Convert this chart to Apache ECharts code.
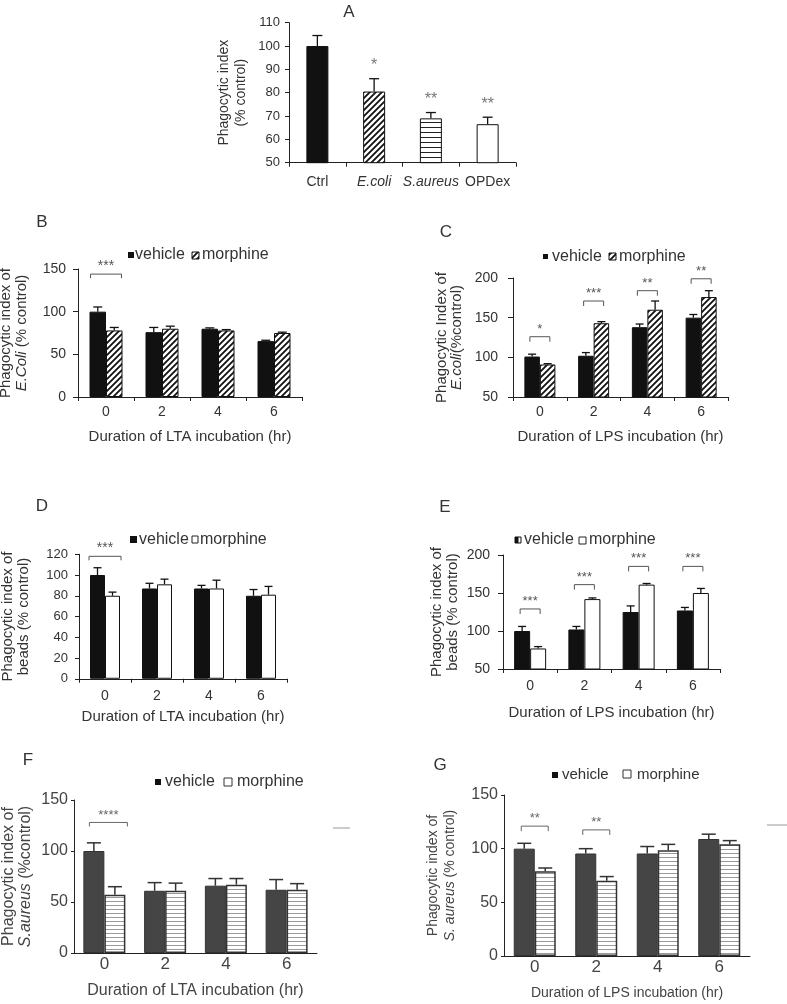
<!DOCTYPE html>
<html><head><meta charset="utf-8">
<script src="https://cdn.jsdelivr.net/npm/echarts@6/dist/echarts.min.js"></script>
<style>html,body{margin:0;padding:0;background:#fff}#chart{width:787px;height:1004px}</style>
</head><body><div id="chart"></div>
<script>
// ---------------- DATA ----------------
const aCategories = ['Ctrl', 'E.coli', 'S.aureus', 'OPDex'];
const aValues = [100, 80.5, 69, 66.5];
const aErrTop = [104.5, 86, 71.5, 69.5];
const aStars = ['', '*', '**', '**'];

const hours = ['0', '2', '4', '6'];

const bVehicle = [100, 76, 80, 65.5];
const bVehicleErr = [105.5, 81.5, 81, 66.5];
const bMorphine = [78, 80, 78, 75];
const bMorphineErr = [81.5, 83, 79, 76];
const bSigLevel = [144, null, null, null];
const bSigText = ['***', '', '', ''];

const cVehicle = [101, 102, 138, 150];
const cVehicleErr = [104, 106, 142, 154];
const cMorphine = [91, 143, 160, 176];
const cMorphineErr = [92, 145, 171, 184];
const cSigLevel = [126, 171, 184, 199];
const cSigText = ['*', '***', '**', '**'];

const dVehicle = [100, 87, 87, 80];
const dVehicleErr = [107, 92, 90, 86];
const dMorphine = [80, 91, 87, 81];
const dMorphineErr = [83.5, 96, 95, 89];
const dSigLevel = [118, null, null, null];
const dSigText = ['***', '', '', ''];

const eVehicle = [100, 102, 125, 127];
const eVehicleErr = [106, 106, 133, 131];
const eMorphine = [77, 142, 161, 150];
const eMorphineErr = [79.5, 143.5, 162.5, 156];
const eSigLevel = [129, 161, 185, 185];
const eSigText = ['***', '***', '***', '***'];

const fVehicle = [100, 61, 66, 62];
const fVehicleErr = [108, 69, 73, 72];
const fMorphine = [57, 61, 67, 62];
const fMorphineErr = [65, 68.5, 73, 68];
const fSigLevel = [128, null, null, null];
const fSigText = ['****', '', '', ''];

const gVehicle = [100, 95.5, 95.5, 109];
const gVehicleErr = [105, 100, 102, 113.5];
const gMorphine = [79, 70, 98.5, 104];
const gMorphineErr = [82, 74, 104, 107.5];
const gSigLevel = [121, 117.5, null, null];
const gSigText = ['**', '**', '', ''];

// ---------------- STYLE HELPERS ----------------
const FONT = '"Liberation Sans", Arial, Helvetica, sans-serif';
function makeCanvas(w, h, draw) { const c = document.createElement('canvas'); c.width = w; c.height = h; draw(c.getContext('2d'), w, h); return c; }
const diagHatch = { image: makeCanvas(6, 6, g => { g.fillStyle = '#fff'; g.fillRect(0, 0, 6, 6); g.strokeStyle = '#111'; g.lineWidth = 1.8; g.beginPath(); g.moveTo(-1, 7); g.lineTo(7, -1); g.moveTo(-1, 1); g.lineTo(1, -1); g.moveTo(5, 7); g.lineTo(7, 5); g.stroke(); }), repeat: 'repeat' };
const hLinesA = { image: makeCanvas(5, 5, g => { g.fillStyle = '#fff'; g.fillRect(0, 0, 5, 5); g.fillStyle = '#222'; g.fillRect(0, 2, 5, 1); }), repeat: 'repeat' };
const hLinesFG = { image: makeCanvas(4, 4, g => { g.fillStyle = '#fff'; g.fillRect(0, 0, 4, 4); g.fillStyle = '#9a9a9a'; g.fillRect(0, 1, 4, 1); }), repeat: 'repeat' };

const grids = [], xAxes = [], yAxes = [], series = [], graphics = [];

function addPanel(p) {
  const k = grids.length;
  const color = p.color || '#333';
  grids.push({ left: p.left, top: p.top, width: p.width, height: p.height, containLabel: false, outerBoundsMode: 'none' });
  xAxes.push({
    type: 'category', gridIndex: k, data: p.cats, boundaryGap: true,
    axisLine: { show: true, onZero: false, lineStyle: { color: '#222', width: 1 } },
    axisTick: { show: p.xTicks, length: 4, lineStyle: { color: '#222' } },
    axisLabel: { interval: 0, hideOverlap: false, margin: p.xLabelMargin, fontSize: p.xLabelSize, color: color, fontFamily: FONT, formatter: p.xFormatter,
      rich: { i: { fontStyle: 'italic', fontSize: p.xLabelSize, color: color, fontFamily: FONT } } },
    name: p.xName || '', nameLocation: 'middle', nameGap: p.xNameGap || 30,
    nameTextStyle: { fontSize: p.xNameSize || 14, color: color, fontFamily: FONT },
    splitLine: { show: false }
  });
  yAxes.push({
    type: 'value', gridIndex: k, min: p.min, max: p.max, interval: p.interval,
    axisLine: { show: true, lineStyle: { color: '#222', width: 1 } },
    axisTick: { show: true, length: p.yTickLen || 4, lineStyle: { color: '#222' } },
    axisLabel: { margin: p.yLabelMargin, fontSize: p.yLabelSize, color: color, fontFamily: FONT },
    splitLine: { show: false },
    name: p.yName, nameLocation: 'middle', nameGap: p.yNameGap, nameRotate: 90, nameMoveOverlap: false,
    nameTextStyle: { fontSize: p.yNameSize, lineHeight: p.yNameLH, color: color, fontFamily: FONT,
      rich: { i: { fontStyle: 'italic', fontSize: p.yNameSize, lineHeight: p.yNameLH, color: color, fontFamily: FONT } } }
  });
  return k;
}
function addBars(k, data, fill, barW, border, bw) {
  series.push({ type: 'bar', xAxisIndex: k, yAxisIndex: k, data: data, barWidth: barW, barGap: '0%',
    itemStyle: { color: fill, borderColor: border, borderWidth: bw }, silent: true, animation: false });
}
function addErr(k, vals, errs, offset, capW, color, lw) {
  series.push({ type: 'custom', xAxisIndex: k, yAxisIndex: k, z: 5, silent: true, animation: false,
    data: vals.map((v, i) => [i, v, errs[i]]),
    renderItem: (params, api) => {
      const b = api.coord([api.value(0), api.value(1)]);
      const t = api.coord([api.value(0), api.value(2)]);
      const x = b[0] + offset;
      return { type: 'group', children: [
        { type: 'line', shape: { x1: x, y1: b[1], x2: x, y2: t[1] }, style: { stroke: color, lineWidth: lw } },
        { type: 'line', shape: { x1: x - capW / 2, y1: t[1], x2: x + capW / 2, y2: t[1] }, style: { stroke: color, lineWidth: lw } }
      ] };
    } });
}
function addSig(k, levels, texts, halfW, leg, shift, font, color) {
  const data = [];
  levels.forEach((l, i) => { if (l != null) data.push([i, l]); });
  series.push({ type: 'custom', xAxisIndex: k, yAxisIndex: k, z: 6, silent: true, animation: false, clip: false,
    data: data,
    renderItem: (params, api) => {
      const i = api.value(0);
      const p = api.coord([i, api.value(1)]);
      const x0 = p[0] - halfW + shift, x1 = p[0] + halfW + shift, y = p[1];
      return { type: 'group', children: [
        { type: 'polyline', shape: { points: [[x0, y + leg], [x0, y], [x1, y], [x1, y + leg]] }, style: { stroke: color, lineWidth: 1, fill: 'none' } },
        { type: 'text', x: (x0 + x1) / 2, y: y - 1, style: { text: texts[i], fill: color, font: font, textAlign: 'center', textVerticalAlign: 'bottom', align: 'center', verticalAlign: 'bottom' } }
      ] };
    } });
}
function addText(x, y, text, font, color, align) {
  graphics.push({ type: 'text', x: x, y: y, silent: true, style: { text: text, font: font, fill: color || '#333', textAlign: align || 'center', textVerticalAlign: 'middle', align: align || 'center', verticalAlign: 'middle' } });
}
function addRect(x, y, w, h, fill, stroke) {
  graphics.push({ type: 'rect', silent: true, shape: { x: x, y: y, width: w, height: h }, style: { fill: fill, stroke: stroke || null, lineWidth: stroke ? 1 : 0 } });
}

// ---------------- PANEL A ----------------
const kA = addPanel({ left: 289, top: 22.7, width: 227, height: 140, cats: aCategories, xTicks: true, xLabelMargin: 12, xLabelSize: 14,
  xFormatter: v => (v === 'E.coli' || v === 'S.aureus') ? '{i|' + v + '}' : v,
  min: 50, max: 110, interval: 10, yLabelMargin: 9, yLabelSize: 13,
  yName: 'Phagocytic index\n(% control)', yNameGap: 39, yNameSize: 14, yNameLH: 17 });
const aFills = ['#111', diagHatch, hLinesA, '#fff'];
addBars(kA, aValues.map((v, i) => ({ value: v, itemStyle: { color: aFills[i] } })), '#111', 22, '#111', 1);
addErr(kA, aValues, aErrTop, 0, 10, '#111', 1.3);
series.push({ type: 'custom', xAxisIndex: kA, yAxisIndex: kA, z: 6, silent: true, animation: false,
  data: aErrTop.map((v, i) => [i, v]),
  renderItem: (params, api) => {
    const p = api.coord([api.value(0), api.value(1)]);
    return { type: 'text', x: p[0], y: p[1] - 5, style: { text: aStars[api.value(0)], fill: '#777', font: '16px ' + FONT, textAlign: 'center', textVerticalAlign: 'bottom', align: 'center', verticalAlign: 'bottom' } };
  } });

// ---------------- PANEL B ----------------
const kB = addPanel({ left: 78, top: 269, width: 224, height: 128, cats: hours, xTicks: true, xLabelMargin: 8, xLabelSize: 14,
  xName: 'Duration of LTA incubation (hr)', xNameGap: 32, xNameSize: 15,
  min: 0, max: 150, interval: 50, yLabelMargin: 12, yLabelSize: 14, yTickLen: 5,
  yName: 'Phagocytic index of\n{i|E.Coli} (% control)', yNameGap: 48, yNameSize: 15, yNameLH: 16 });
addBars(kB, bVehicle, '#111', 16.5, '#111', 1);
addBars(kB, bMorphine, diagHatch, 16.5, '#111', 1);
addErr(kB, bVehicle, bVehicleErr, -8.25, 9, '#111', 1.3);
addErr(kB, bMorphine, bMorphineErr, 8.25, 9, '#111', 1.3);
addSig(kB, bSigLevel, bSigText, 15.5, 4, 0, '14px ' + FONT, '#555');

// ---------------- PANEL C ----------------
const kC = addPanel({ left: 513, top: 278, width: 215, height: 119, cats: hours, xTicks: true, xLabelMargin: 8, xLabelSize: 14,
  xName: 'Duration of LPS incubation (hr)', xNameGap: 32, xNameSize: 15,
  min: 50, max: 200, interval: 50, yLabelMargin: 15, yLabelSize: 14, yTickLen: 5,
  yName: 'Phagocytic Index of\n{i|E.coli}(%control)', yNameGap: 49, yNameSize: 15, yNameLH: 15 });
addBars(kC, cVehicle, '#111', 15.5, '#111', 1);
addBars(kC, cMorphine, diagHatch, 15.5, '#111', 1);
addErr(kC, cVehicle, cVehicleErr, -7.75, 8, '#111', 1.3);
addErr(kC, cMorphine, cMorphineErr, 7.75, 8, '#111', 1.3);
addSig(kC, cSigLevel, cSigText, 10, 5, 0, '13px ' + FONT, '#555');

// ---------------- PANEL D ----------------
const kD = addPanel({ left: 79, top: 554.25, width: 208, height: 124.5, cats: hours, xTicks: true, xLabelMargin: 10, xLabelSize: 14,
  xName: 'Duration of LTA incubation (hr)', xNameGap: 31, xNameSize: 15,
  min: 0, max: 120, interval: 20, yLabelMargin: 11, yLabelSize: 13,
  yName: 'Phagocytic index of\nbeads (% control)', yNameGap: 47, yNameSize: 15, yNameLH: 16 });
addBars(kD, dVehicle, '#111', 15, '#111', 1);
addBars(kD, dMorphine, '#fff', 15, '#111', 1);
addErr(kD, dVehicle, dVehicleErr, -7.5, 8, '#111', 1.3);
addErr(kD, dMorphine, dMorphineErr, 7.5, 8, '#111', 1.3);
addSig(kD, dSigLevel, dSigText, 16, 4, 0, '14px ' + FONT, '#555');

// ---------------- PANEL E ----------------
const kE = addPanel({ left: 503, top: 555, width: 217, height: 114, cats: hours, xTicks: true, xLabelMargin: 10, xLabelSize: 14,
  xName: 'Duration of LPS incubation (hr)', xNameGap: 36, xNameSize: 15,
  min: 50, max: 200, interval: 50, yLabelMargin: 13, yLabelSize: 14, yTickLen: 5,
  yName: 'Phagocytic index of\nbeads (% control)', yNameGap: 42, yNameSize: 15, yNameLH: 16 });
addBars(kE, eVehicle, '#111', 16, '#111', 1);
addBars(kE, eMorphine, '#fff', 16, '#111', 1);
addErr(kE, eVehicle, eVehicleErr, -8, 8, '#111', 1.3);
addErr(kE, eMorphine, eMorphineErr, 8, 8, '#111', 1.3);
addSig(kE, eSigLevel, eSigText, 10, 5, 0, '13px ' + FONT, '#555');

// ---------------- PANEL F ----------------
const kF = addPanel({ left: 74, top: 800, width: 243, height: 153, cats: hours, xTicks: false, xLabelMargin: 3, xLabelSize: 17, color: '#444',
  xName: 'Duration of LTA incubation (hr)', xNameGap: 30, xNameSize: 16,
  min: 0, max: 150, interval: 50, yLabelMargin: 6, yLabelSize: 16, yTickLen: 3,
  yName: 'Phagocytic index of\n{i|S.aureus} (%control)', yNameGap: 40, yNameSize: 16, yNameLH: 17 });
addBars(kF, fVehicle, '#454545', 21, '#333', 1);
addBars(kF, fMorphine, hLinesFG, 21, '#333', 1.5);
addErr(kF, fVehicle, fVehicleErr, -10.5, 14, '#333', 1.5);
addErr(kF, fMorphine, fMorphineErr, 10.5, 14, '#333', 1.5);
addSig(kF, fSigLevel, fSigText, 19, 4, 4, '13px ' + FONT, '#666');

// ---------------- PANEL G ----------------
const kG = addPanel({ left: 504, top: 795, width: 246, height: 161, cats: hours, xTicks: false, xLabelMargin: 3, xLabelSize: 17, color: '#444',
  xName: 'Duration of LPS incubation (hr)', xNameGap: 30, xNameSize: 14,
  min: 0, max: 150, interval: 50, yLabelMargin: 6, yLabelSize: 16, yTickLen: 3,
  yName: 'Phagocytic index of\n{i|S. aureus} (% control)', yNameGap: 45, yNameSize: 14, yNameLH: 17 });
addBars(kG, gVehicle, '#454545', 21, '#333', 1);
addBars(kG, gMorphine, hLinesFG, 21, '#333', 1.5);
addErr(kG, gVehicle, gVehicleErr, -10.5, 14, '#333', 1.5);
addErr(kG, gMorphine, gMorphineErr, 10.5, 14, '#333', 1.5);
addSig(kG, gSigLevel, gSigText, 13.5, 5, 0, '13px ' + FONT, '#666');

// ---------------- TITLES / LEGENDS ----------------
const TF = '17px ' + FONT;
addText(349, 12, 'A', TF); addText(42, 222, 'B', TF); addText(446, 232, 'C', TF);
addText(42, 506, 'D', TF); addText(445, 507, 'E', TF); addText(28, 760, 'F', TF); addText(440, 765, 'G', TF);

const LF = '16px ' + FONT;
// B legend
addRect(128, 252, 6, 6, '#111'); addText(135, 255, 'vehicle', LF, '#333', 'left');
addRect(192, 252, 7, 7, diagHatch, '#111'); addText(202, 255, 'morphine', LF, '#333', 'left');
// C legend
addRect(543, 254, 5, 5, '#111'); addText(552, 257, 'vehicle', LF, '#333', 'left');
addRect(609, 253, 7, 7, diagHatch, '#111'); addText(619, 257, 'morphine', LF, '#333', 'left');
// D legend
addRect(130, 536, 7, 7, '#111'); addText(139, 540, 'vehicle', LF, '#333', 'left');
addRect(192, 536, 6, 7, '#fff', '#222'); addText(200, 540, 'morphine', LF, '#333', 'left');
// E legend
addRect(515, 537, 6, 6, '#fff', '#111'); addRect(515, 537, 3.5, 6, '#111'); addText(524, 540, 'vehicle', LF, '#333', 'left');
addRect(579, 537, 7, 7, '#fff', '#222'); addText(589, 540, 'morphine', LF, '#333', 'left');
// F legend
addRect(155, 779, 6, 6, '#111'); addText(165, 782, 'vehicle', LF, '#333', 'left');
addRect(224, 778, 8, 8, '#fff', '#333'); addText(237, 782, 'morphine', LF, '#333', 'left');
// G legend
addRect(552, 772, 6, 6, '#111'); addText(562, 775, 'vehicle', '15px ' + FONT, '#333', 'left');
addRect(623, 770, 8, 8, '#fff', '#333'); addText(637, 775, 'morphine', '15px ' + FONT, '#333', 'left');
// stray marks at right of F and G
graphics.push({ type: 'line', silent: true, shape: { x1: 333, y1: 828, x2: 350, y2: 828 }, style: { stroke: '#999', lineWidth: 1 } });
graphics.push({ type: 'line', silent: true, shape: { x1: 767, y1: 825, x2: 787, y2: 825 }, style: { stroke: '#999', lineWidth: 1 } });

const chart = echarts.init(document.getElementById('chart'), null, { renderer: 'canvas' });
chart.setOption({
  animation: false, backgroundColor: '#fff',
  grid: grids, xAxis: xAxes, yAxis: yAxes, series: series, graphic: graphics
});
</script></body></html>
